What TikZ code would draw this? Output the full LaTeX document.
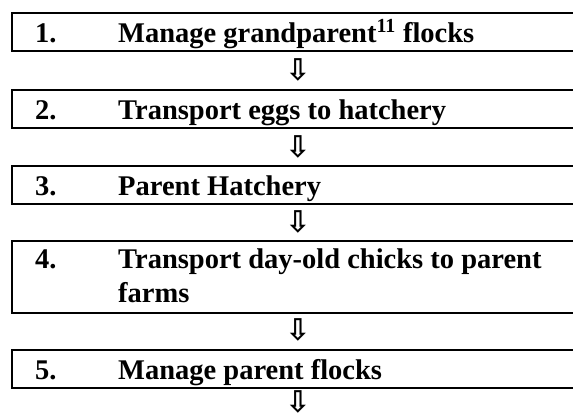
\documentclass[tikz,border=0pt]{standalone}
\usepackage{fontspec}
\setmainfont{Liberation Serif}
\newfontfamily\arrowfont{DejaVu Sans}
\usetikzlibrary{positioning}

\begin{document}
\begin{tikzpicture}[x=1pt,y=-1pt,
	stepbox/.style={draw,line width=2pt,minimum width=575pt,minimum height=#1,anchor=north west,inner sep=0},
	stepbox/.default=38pt,
	num/.style={anchor=base west,inner sep=0,font=\fontsize{28.5}{34}\selectfont\bfseries},
	label/.style={anchor=base west,inner sep=0,align=left,font=\fontsize{28.5}{34}\selectfont\bfseries},
	down/.style={inner sep=0,font=\arrowfont\bfseries\fontsize{30}{30}\selectfont}]
\useasboundingbox (0,0) rectangle (573,418);
% boxes
\node[stepbox] (b1) at (11,12) {};
\node[stepbox] (b2) at (11,89) {};
\node[stepbox] (b3) at (11,165) {};
\node[stepbox=72pt] (b4) at (11,240) {};
\node[stepbox] (b5) at (11,349) {};
% numbers and texts
\node[num] (n1) at (35,42) {1.};
\node[label] (t1) at (118,42) {Manage grandparent\textsuperscript{11} flocks};
\node[num] (n2) at (35,119) {2.};
\node[label] (t2) at (118,119) {Transport eggs to hatchery};
\node[num] (n3) at (35,195) {3.};
\node[label] (t3) at (118,195) {Parent Hatchery};
\node[num] (n4) at (35,268) {4.};
\node[label] (t4) at (118,302) {Transport day-old chicks to parent\\farms};
\node[num] (n5) at (35,379) {5.};
\node[label] (t5) at (118,379) {Manage parent flocks};
% arrows
\node[down] (a1) at (298,70) {⇩};
\node[down] (a2) at (298,147) {⇩};
\node[down] (a3) at (298,222) {⇩};
\node[down] (a4) at (298,330) {⇩};
\node[down] (a5) at (298,402) {⇩};
\end{tikzpicture}
\end{document}
